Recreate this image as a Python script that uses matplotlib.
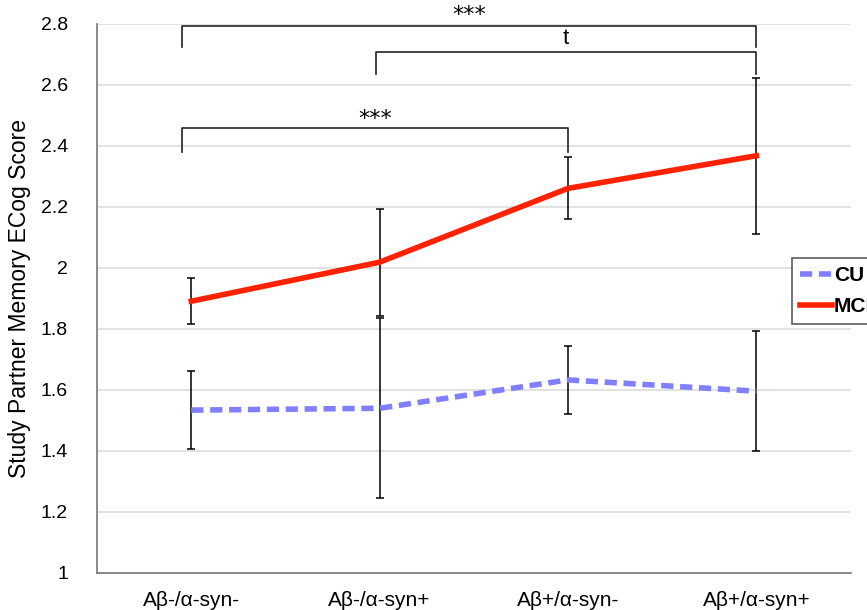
import matplotlib
matplotlib.use("Agg")
import matplotlib.pyplot as plt

plt.rcParams['font.family'] = ['Liberation Sans', 'DejaVu Sans']

groups = ['Aβ-/α-syn-', 'Aβ-/α-syn+', 'Aβ+/α-syn-', 'Aβ+/α-syn+']
cu_mean = [1.534, 1.540, 1.633, 1.596]
cu_err = [0.128, 0.295, 0.112, 0.197]
mci_mean = [1.891, 2.019, 2.261, 2.368]
mci_err = [0.075, 0.175, 0.102, 0.255]
yticks = [1, 1.2, 1.4, 1.6, 1.8, 2, 2.2, 2.4, 2.6, 2.8]
ytick_labels = ['1', '1.2', '1.4', '1.6', '1.8', '2', '2.2', '2.4', '2.6', '2.8']

# significance brackets: (left, right, line y, tick bottom y, label, label y)
brackets = [
    (-0.05, 3.0, 2.793, 2.725, '***', 2.830),
    (0.98, 3.0, 2.708, 2.636, 't', 2.752),
    (-0.05, 2.0, 2.459, 2.380, '***', 2.490),
]

fig = plt.figure(figsize=(8.67, 6.10), dpi=100)
ax = fig.add_axes([0.112, 0.0607, 0.869, 0.9])

x = list(range(len(groups)))
ax.errorbar(x, cu_mean, yerr=cu_err, color='#7f7fff', lw=4, ls=(0, (2.2, 1.2)),
            ecolor='black', elinewidth=1.1, capsize=3, capthick=1.1, label='CU', zorder=3)
ax.errorbar(x, mci_mean, yerr=mci_err, color='#ff2200', lw=4,
            ecolor='black', elinewidth=1.1, capsize=3, capthick=1.1, label='MCI', zorder=3)

for left, right, ly, lb, txt, ty in brackets:
    ax.plot([left, left, right, right], [lb, ly, ly, lb], color='#222222', lw=1.2,
            clip_on=False, zorder=4)
    ax.text((left + right) / 2, ty, txt, ha='center', va='center', fontsize=16,
            family='DejaVu Sans' if txt != 't' else 'Liberation Sans', clip_on=False)

ax.set_xlim(-0.5, 3.5)
ax.set_ylim(1, 2.8)
ax.set_xticks(x)
ax.set_xticklabels(groups, fontsize=15)
ax.set_yticks(yticks)
ax.set_yticklabels(ytick_labels, fontsize=14)
ax.tick_params(axis='both', length=0)
ax.tick_params(axis='y', pad=21)
ax.tick_params(axis='x', pad=13)
ax.set_ylabel('Study Partner Memory ECog Score', fontsize=16.5, labelpad=7)
ax.grid(axis='y', color='#dddddd', lw=1.2)
ax.set_axisbelow(True)
for s in ['top', 'right']:
    ax.spines[s].set_visible(False)
for s in ['left', 'bottom']:
    ax.spines[s].set_color('#777777')
    ax.spines[s].set_linewidth(1.2)

handles, labels = ax.get_legend_handles_labels()
handles = [h[0] for h in handles]
leg = fig.legend(handles, labels, loc='upper left', bbox_to_anchor=(792 / 867, 1 - 258 / 610),
                 frameon=True, fancybox=False, edgecolor='#333333', handlelength=1.5,
                 handletextpad=0.1, borderpad=0.4, borderaxespad=0, labelspacing=0.55,
                 prop={'weight': 'bold', 'size': 15})
leg.get_frame().set_linewidth(1.2)

fig.savefig('out.png', dpi=100)
